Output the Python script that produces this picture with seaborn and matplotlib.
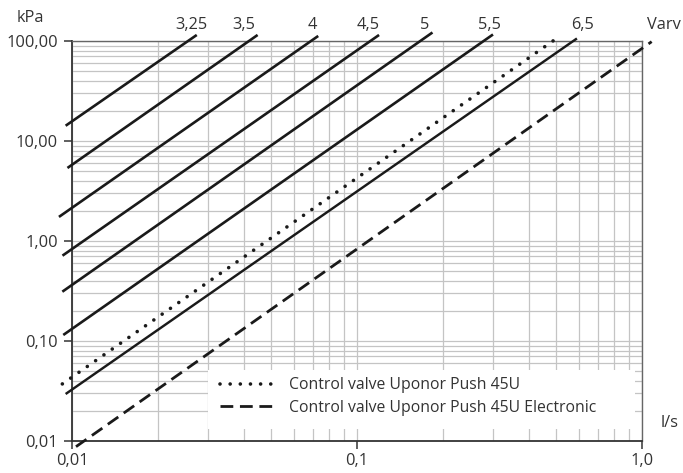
import matplotlib
matplotlib.use("Agg")
import matplotlib.pyplot as plt
import matplotlib.ticker as mticker
from matplotlib.patches import Rectangle
import seaborn as sns
import pandas as pd

# Valve presettings (turns) - each line read at its two ends
settings = ['3,25', '3,5', '4', '4,5', '5', '5,5', '6,5']
flow_start = [0.0095, 0.00964, 0.0090, 0.00926, 0.00925, 0.00932, 0.0095]
flow_end = [0.0274, 0.0448, 0.0731, 0.1195, 0.184, 0.300, 0.591]
dp_start = [14.2, 5.37, 1.74, 0.713, 0.311, 0.1148, 0.0295]
dp_end = [114.8, 114.8, 112.2, 114.8, 121.6, 116.1, 105.9]

# Control valves
push_flow = [0.00925, 0.516]
push_dp = [0.0372, 112.2]
elec_flow = [0.01033, 1.081]
elec_dp = [0.00877, 98.4]

x_ticks = [0.01, 0.1, 1.0]
x_labels = ['0,01', '0,1', '1,0']
y_ticks = [0.01, 0.1, 1, 10, 100]
y_labels = ['0,01', '0,10', '1,00', '10,00', '100,00']

legend_labels = ['Control valve Uponor Push 45U',
                 'Control valve Uponor Push 45U Electronic']

sns.set_theme(style='white')
plt.rcParams['font.family'] = ['Open Sans', 'DejaVu Sans']
text_color = '#333333'
line_color = '#1a1a1a'
fs = 11.8

fig = plt.figure(figsize=(6.83, 4.73), dpi=100)
ax = fig.add_axes([0.1054, 0.0677, 0.8346, 0.8457])
ax.set_xscale('log')
ax.set_yscale('log')
ax.set_xlim(0.01, 1.0)
ax.set_ylim(0.01, 100)

# Grid
ax.grid(which='both', color='#c4c4c4', lw=0.9)
ax.set_axisbelow(True)

# Valve setting lines
for i, name in enumerate(settings):
    df = pd.DataFrame({'q': [flow_start[i], flow_end[i]],
                       'dp': [dp_start[i], dp_end[i]]})
    sns.lineplot(data=df, x='q', y='dp', ax=ax, color=line_color,
                 lw=1.75 if name == '6,5' else 1.9, clip_on=False,
                 solid_capstyle='butt', zorder=4)

df_push = pd.DataFrame({'q': push_flow, 'dp': push_dp})
sns.lineplot(data=df_push, x='q', y='dp', ax=ax, color=line_color, lw=2.6,
             dashes=(0.01, 2.8), dash_capstyle='round', clip_on=False,
             zorder=4, label=legend_labels[0])
df_elec = pd.DataFrame({'q': elec_flow, 'dp': elec_dp})
sns.lineplot(data=df_elec, x='q', y='dp', ax=ax, color=line_color, lw=2.0,
             dashes=(4.6, 2.4), dash_capstyle='butt', clip_on=False,
             zorder=4, label=legend_labels[1])

# White box behind the legend
ax.add_patch(Rectangle((0.239, 0.03), 0.749, 0.1475, transform=ax.transAxes,
                       facecolor='white', edgecolor='none', zorder=2))
leg = ax.legend(loc='upper left', bbox_to_anchor=(0.249, 0.175),
                frameon=False, fontsize=11.3, handlelength=3.6,
                handletextpad=0.8, labelspacing=0.42, borderaxespad=0)
for t in leg.get_texts():
    t.set_color(text_color)

# Axes and ticks
ax.xaxis.set_major_locator(mticker.FixedLocator(x_ticks))
ax.xaxis.set_major_formatter(mticker.FixedFormatter(x_labels))
ax.yaxis.set_major_locator(mticker.FixedLocator(y_ticks))
ax.yaxis.set_major_formatter(mticker.FixedFormatter(y_labels))
ax.xaxis.set_minor_formatter(mticker.NullFormatter())
ax.yaxis.set_minor_formatter(mticker.NullFormatter())
ax.tick_params(which='major', length=6, width=1.2, color='#444444',
               labelsize=fs, labelcolor=text_color)
ax.tick_params(axis='x', bottom=True, pad=3)
ax.tick_params(axis='y', left=True, pad=4)
ax.tick_params(which='minor', length=0)
ax.set_xlabel('')
ax.set_ylabel('')
for side in ['left', 'bottom']:
    ax.spines[side].set_color('#333333')
    ax.spines[side].set_linewidth(1.3)
for side in ['top', 'right']:
    ax.spines[side].set_color('#666666')
    ax.spines[side].set_linewidth(1.0)

# Labels around the plot
label_x = [0.210, 0.302, 0.422, 0.519, 0.618, 0.732, 0.896]
for name, xf in zip(settings, label_x):
    ax.text(xf, 1.04, name, transform=ax.transAxes, ha='center', va='center',
            fontsize=fs, color=text_color, clip_on=False)
ax.text(1.0085, 1.04, 'Varv', transform=ax.transAxes, ha='left', va='center',
        fontsize=fs, color=text_color, clip_on=False)
ax.text(-0.0737, 1.0575, 'kPa', transform=ax.transAxes, ha='center',
        va='center', fontsize=fs, color=text_color, clip_on=False)
ax.text(1.032, 0.045, 'l/s', transform=ax.transAxes, ha='left', va='center',
        fontsize=fs, color=text_color, clip_on=False)

fig.savefig('out.png', dpi=100)
